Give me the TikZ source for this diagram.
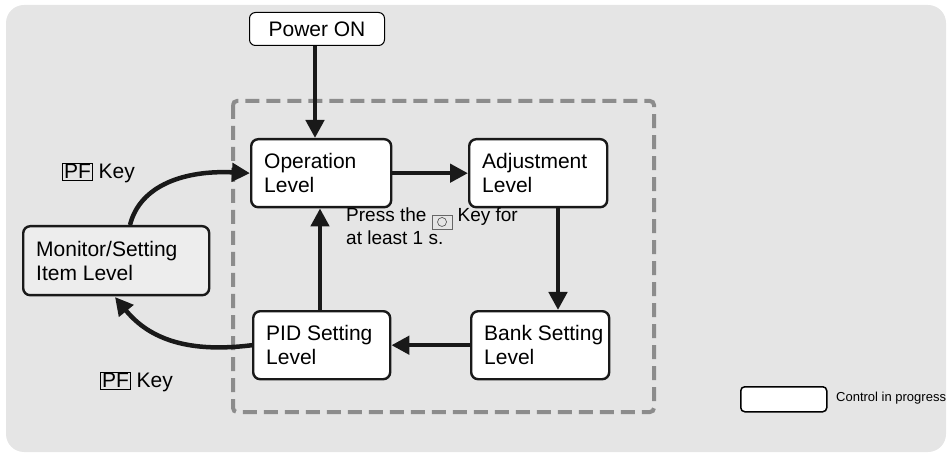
\documentclass[tikz,border=0pt]{standalone}
\usepackage{fontspec}
\setmainfont{Liberation Sans}
\usetikzlibrary{arrows.meta}
\begin{document}
\begin{tikzpicture}[x=1pt,y=-1pt,
 arr/.style={line width=4.5pt,draw=black!90,-{Triangle[length=18pt,width=18pt]}},
 keybox/.style={draw,line width=0.8pt,inner sep=1.5pt},
 every node/.style={font=\fontsize{21}{24}\selectfont}]
\useasboundingbox (0,0) rectangle (951,457);
\fill[black!10,rounded corners=18pt] (6,5) rectangle (946,452);
\draw[black!45,line width=4pt,dash pattern=on 14pt off 7pt,rounded corners=4pt] (233,101) rectangle (654,412);
\node[draw=black,line width=1pt,rounded corners=6pt,fill=white,minimum width=135pt,minimum height=33pt,anchor=north west] (pw) at (249,12) {};
\node at (pw.center) {Power ON};
\newcommand{\lbox}[6]{\node[draw=black!90,line width=2.4pt,rounded corners=7pt,fill=#6,minimum width=#3pt,minimum height=#4pt,anchor=north west] (#1) at (#2) {};
 \node[anchor=west,align=left,inner sep=0pt] at ([xshift=14pt]#1.west) {#5};}
\lbox{op}{250,138}{140}{68}{Operation\\Level}{white}
\lbox{adj}{468,138}{138}{68}{Adjustment\\Level}{white}
\lbox{bank}{470,310}{138}{68}{Bank Setting\\Level}{white}
\lbox{pid}{252,310}{137}{68}{PID Setting\\Level}{white}
\lbox{mon}{22,225}{186}{69}{Monitor/Setting\\Item Level}{black!7}
\draw[arr] (pw.south -| 315,0) -- (op.north -| 315,0);
\draw[arr] (op.east) -- (adj.west);
\draw[arr] (adj.south -| 558,0) -- (bank.north -| 558,0);
\draw[arr] (bank.west) -- (pid.west -| pid.east);
\draw[arr] (pid.north -| 320,0) -- (op.south -| 320,0);
\draw[arr] (130,225) .. controls (140,185) and (185,170) .. (op.west);
\draw[arr] (pid.west) .. controls (190,353) and (150,340) .. (115,297);
\node[anchor=west,inner sep=0pt,font=\fontsize{21}{24}\selectfont] (k1) at (62,173) {\tikz[baseline=(b.base)]\node[keybox,font=\fontsize{21}{24}\selectfont] (b) {PF};\ Key};
\node[anchor=west,inner sep=0pt,font=\fontsize{21}{24}\selectfont] (k2) at (100,382) {\tikz[baseline=(b.base)]\node[keybox,font=\fontsize{21}{24}\selectfont] (b) {PF};\ Key};
\node[anchor=north west,align=left,inner sep=0pt,font=\fontsize{19}{20}\selectfont] (pr) at (346,208) {Press the \tikz[baseline=-1pt]{\draw[black!60,line width=0.6pt] (0,-6) rectangle (20,8); \draw[black!70,line width=0.6pt] (10,1) circle (4.5);} Key for\\at least 1 s.};
\node[draw=black,line width=1.5pt,rounded corners=4pt,fill=white,minimum width=86pt,minimum height=25pt,anchor=north west] (lg) at (740,386) {};
\node[anchor=west,inner sep=0pt,font=\fontsize{13}{15}\selectfont] at (836,398.5) {Control in progress};
\end{tikzpicture}
\end{document}
